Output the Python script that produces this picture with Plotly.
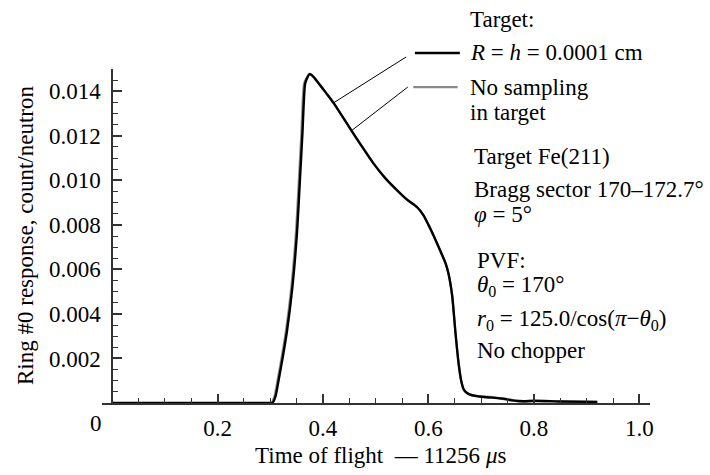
import numpy as np
import plotly.graph_objects as go

# ---- data ----
t_black = [0.0, 0.300, 0.304, 0.310, 0.316, 0.324, 0.332, 0.342, 0.351, 0.356, 0.361, 0.366,
           0.370, 0.375, 0.382, 0.392, 0.405, 0.420, 0.437, 0.454, 0.475, 0.496, 0.518, 0.541,
           0.560, 0.579, 0.590, 0.600, 0.610, 0.623, 0.632, 0.638, 0.645, 0.651, 0.657, 0.662,
           0.667, 0.673, 0.680, 0.700, 0.720, 0.740, 0.760, 0.780, 0.800, 0.850, 0.920]
r_black = [0.0, 0.0, 0.0, 0.0003, 0.00104, 0.0021, 0.00328, 0.0052, 0.00775, 0.0099, 0.0121, 0.01433,
           0.0146, 0.01478, 0.01465, 0.01435, 0.01395, 0.01348, 0.01286, 0.01223, 0.01148, 0.01075,
           0.01010, 0.00954, 0.00912, 0.00878, 0.00845, 0.0080, 0.0075, 0.0068, 0.0063, 0.0058,
           0.0048, 0.0032, 0.0018, 0.0010, 0.0006, 0.00045, 0.00037, 0.00028, 0.00024, 0.00020,
           0.00012, 0.00008, 0.00010, 0.00007, 0.00005]

t_gray = [0.0, 0.298, 0.302, 0.308, 0.314, 0.322, 0.330, 0.340, 0.349, 0.354, 0.359, 0.364,
          0.369, 0.374, 0.382, 0.392, 0.405, 0.420, 0.437, 0.454, 0.475, 0.496, 0.518, 0.541,
          0.560, 0.579, 0.590, 0.600, 0.610, 0.623, 0.632, 0.638, 0.645, 0.651, 0.657, 0.662,
          0.667, 0.673, 0.680, 0.700, 0.720, 0.740, 0.760, 0.780, 0.800, 0.850, 0.920]
r_gray = [0.0, 0.0, 0.0, 0.0003, 0.00104, 0.0021, 0.00328, 0.0052, 0.00775, 0.0099, 0.0121, 0.01433,
          0.0146, 0.01476, 0.01465, 0.01435, 0.01395, 0.01348, 0.01286, 0.01223, 0.01148, 0.01075,
          0.01010, 0.00954, 0.00912, 0.00878, 0.00845, 0.0080, 0.0075, 0.0068, 0.0063, 0.0058,
          0.0048, 0.0032, 0.0018, 0.0010, 0.0006, 0.00045, 0.00035, 0.00030, 0.00028, 0.00018,
          0.00010, 0.00006, 0.00008, 0.00006, 0.00005]

x_ticks = [0.2, 0.4, 0.6, 0.8, 1.0]
y_ticks = [0.002, 0.004, 0.006, 0.008, 0.010, 0.012, 0.014]

x_range = [-0.019, 1.02]
y_range = [0.0, 0.015]

FONT = "Liberation Serif"
FS = 23

fig = go.Figure()
fig.add_trace(go.Scatter(x=t_gray, y=r_gray, mode="lines",
                         line=dict(color="#8a8a8a", width=2.2, shape="spline", smoothing=0.6),
                         showlegend=False))
fig.add_trace(go.Scatter(x=t_black, y=r_black, mode="lines",
                         line=dict(color="black", width=2.4, shape="spline", smoothing=0.6),
                         showlegend=False))

def to_paper(x, y):
    return ((x - x_range[0]) / (x_range[1] - x_range[0]),
            (y - y_range[0]) / (y_range[1] - y_range[0]))

y_axis_pos = to_paper(0.0, 0.0)[0]

# leader lines from legend entries to curve
shapes = []
for lx, ly, tx, src_t, src_r in [(0.555, 1.036, 0.420, t_black, r_black),
                                  (0.558, 0.946, 0.454, t_gray, r_gray)]:
    px, py = to_paper(tx, float(np.interp(tx, src_t, src_r)))
    shapes.append(dict(type="line", xref="paper", yref="paper", x0=lx, y0=ly, x1=px, y1=py,
                       line=dict(color="black", width=1)))
# legend samples
shapes.append(dict(type="line", xref="paper", yref="paper", x0=0.571, x1=0.653, y0=1.048, y1=1.048,
                   line=dict(color="black", width=2.4)))
shapes.append(dict(type="line", xref="paper", yref="paper", x0=0.568, x1=0.649, y0=0.946, y1=0.946,
                   line=dict(color="#8a8a8a", width=2.2)))

annots = []
def txt(x, y, s, xanchor="left", **kw):
    annots.append(dict(x=x, y=y, xref="paper", yref="paper", text=s, showarrow=False,
                       xanchor=xanchor, yanchor="middle",
                       font=dict(family=FONT, size=FS, color="black"), **kw))

txt(0.668, 1.147, "Target:")
txt(0.668, 1.048, "<i>R</i> = <i>h</i> = 0.0001 cm")
txt(0.668, 0.946, "No sampling")
txt(0.668, 0.871, "in target")
txt(0.675, 0.737, "Target Fe(211)")
txt(0.675, 0.638, "Bragg sector 170–172.7°")
txt(0.675, 0.563, "<i>φ</i> = 5°")
txt(0.681, 0.428, "PVF:")
txt(0.681, 0.350, "<i>θ</i><sub>0</sub> = 170°")
txt(0.681, 0.248, "<i>r</i><sub>0</sub> = 125.0/cos(<i>π</i>−<i>θ</i><sub>0</sub>)")
txt(0.681, 0.157, "No chopper")
txt(-0.011, -0.06, "0", xanchor="center")
txt(0.509, -0.156, "Time of flight  — 11256 <i>μ</i>s", xanchor="center")
txt(-0.1405, 0.5, "Ring #0 response, count/neutron", xanchor="center", textangle=-90)

axis_col = "#333333"
fig.update_layout(
    width=710, height=475,
    margin=dict(l=102, r=60, t=69, b=72),
    paper_bgcolor="white", plot_bgcolor="white",
    font=dict(family=FONT, size=FS, color="black"),
    xaxis=dict(range=x_range, showgrid=False, zeroline=False, showline=True, linecolor=axis_col,
               linewidth=1.5, ticks="inside", ticklen=9, tickwidth=1.5, tickcolor=axis_col,
               tickmode="array", tickvals=x_ticks, tickformat=".1f", ticklabelstandoff=4,
               minor=dict(ticks="inside", ticklen=5, tickwidth=1.2, tickcolor=axis_col,
                          dtick=0.05, tick0=0, showgrid=False),
               tickfont=dict(family=FONT, size=FS, color="black")),
    yaxis=dict(range=y_range, anchor="free", position=y_axis_pos, showgrid=False, zeroline=False,
               showline=True, linecolor=axis_col, linewidth=1.5, ticks="inside", ticklen=9,
               tickwidth=1.5, tickcolor=axis_col, tickmode="array", tickvals=y_ticks,
               tickformat=".3f", ticklabelstandoff=6,
               minor=dict(ticks="inside", ticklen=5, tickwidth=1.2, tickcolor=axis_col,
                          dtick=0.0005, tick0=0, showgrid=False),
               tickfont=dict(family=FONT, size=FS, color="black")),
    shapes=shapes, annotations=annots, showlegend=False,
)

fig.write_html("out.html")
